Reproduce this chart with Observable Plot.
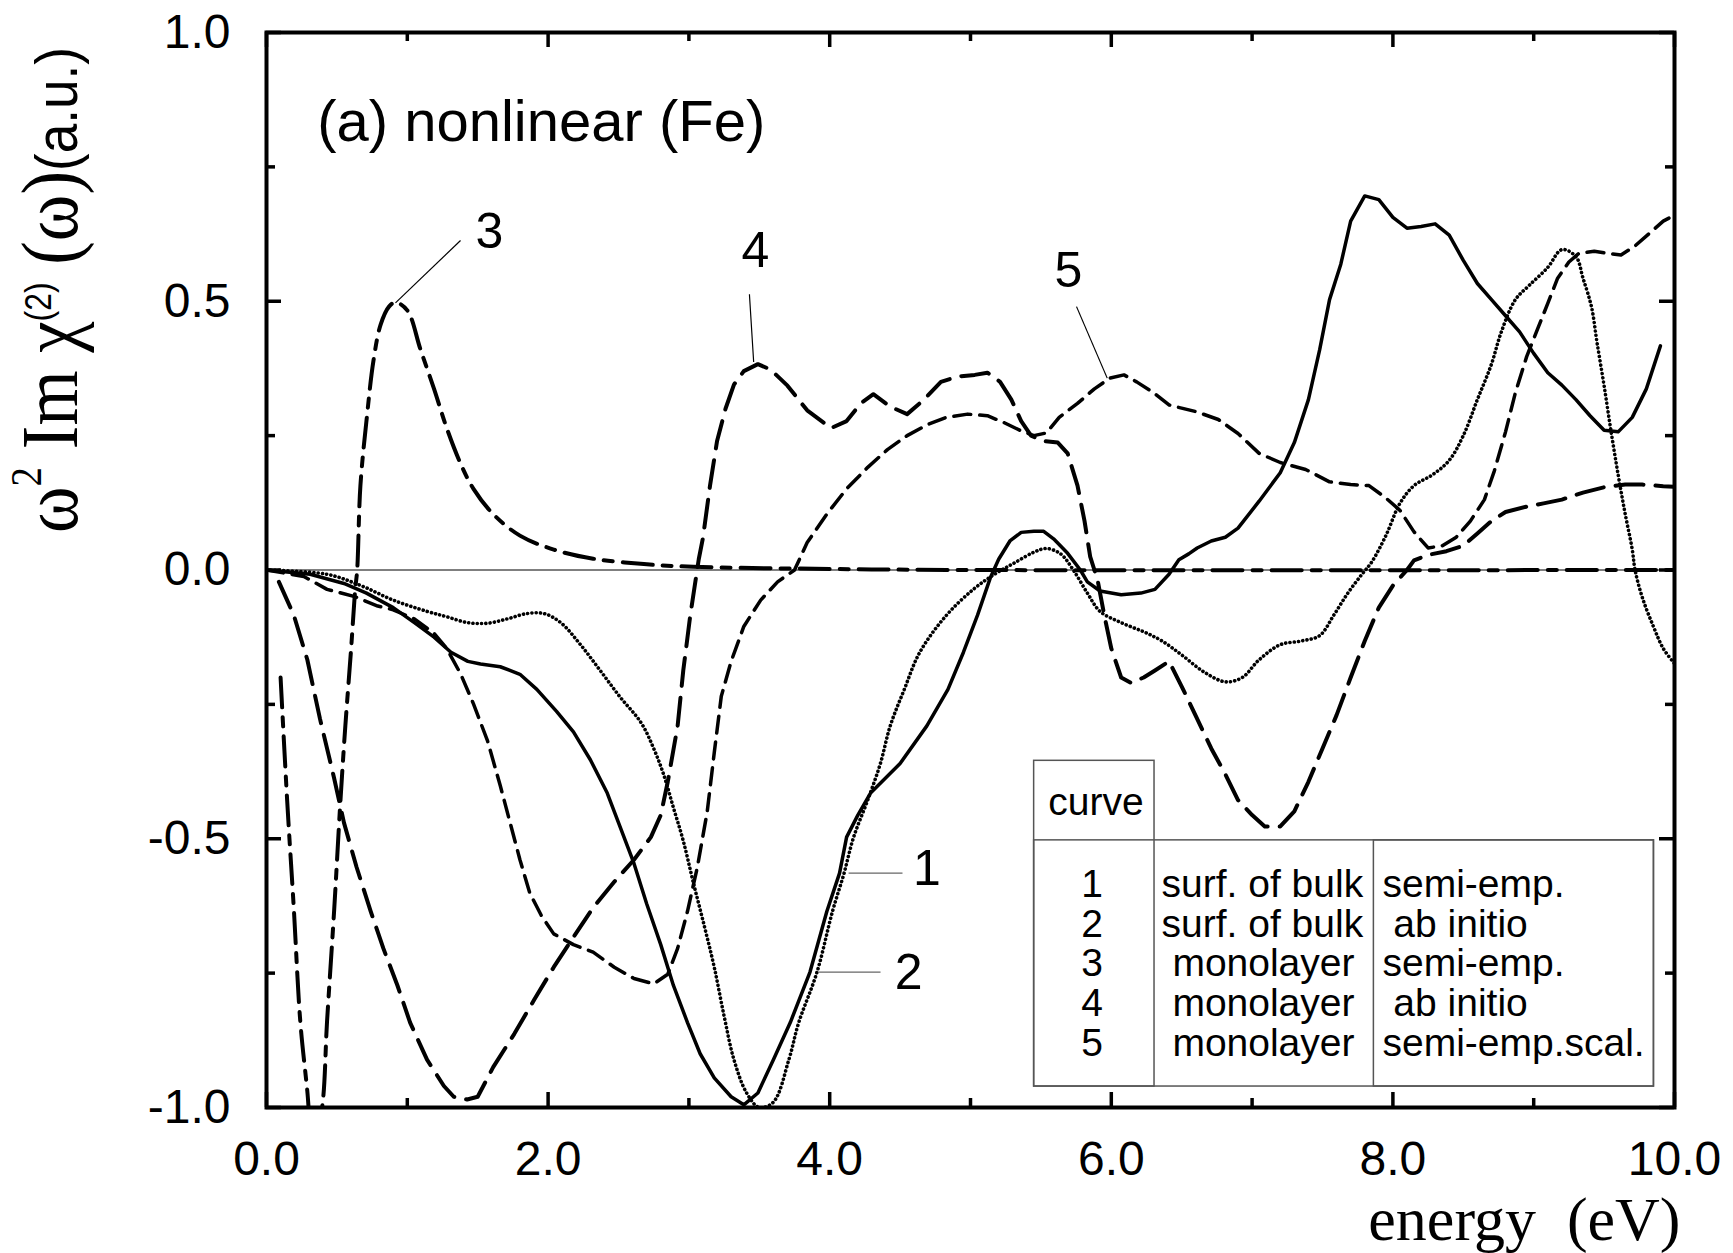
<!DOCTYPE html>
<html><head><meta charset="utf-8">
<script src="https://cdn.jsdelivr.net/npm/d3@7"></script>
<script src="https://cdn.jsdelivr.net/npm/@observablehq/plot@0.6"></script>
<style>body{margin:0;background:#fff} svg{white-space:pre}</style>
</head><body><div id="chart"></div>
<script>
// ---- data: [energy (eV), value] ----
const curve1 = [[0,0],[0.31,-0.008],[0.55,-0.025],[0.71,-0.043],[0.90,-0.07],[1.05,-0.098],[1.19,-0.125],[1.31,-0.153],[1.43,-0.17],[1.52,-0.175],[1.66,-0.18],[1.80,-0.194],[1.92,-0.222],[2.06,-0.263],[2.18,-0.301],[2.30,-0.353],[2.42,-0.415],[2.51,-0.477],[2.61,-0.546],[2.70,-0.621],[2.80,-0.697],[2.89,-0.773],[2.99,-0.842],[3.08,-0.90],[3.18,-0.945],[3.30,-0.98],[3.39,-0.995],[3.49,-0.973],[3.60,-0.911],[3.72,-0.842],[3.86,-0.748],[3.98,-0.635],[4.07,-0.564],[4.12,-0.497],[4.20,-0.456],[4.29,-0.415],[4.50,-0.36],[4.69,-0.29],[4.84,-0.222],[4.95,-0.153],[5.05,-0.084],[5.14,-0.015],[5.20,0.02],[5.28,0.054],[5.36,0.07],[5.45,0.072],[5.52,0.072],[5.59,0.058],[5.69,0.031],[5.78,0],[5.83,-0.022],[5.92,-0.039],[6.07,-0.046],[6.21,-0.043],[6.31,-0.036],[6.41,-0.008],[6.48,0.019],[6.55,0.03],[6.61,0.041],[6.71,0.054],[6.81,0.061],[6.90,0.078],[7.05,0.128],[7.20,0.181],[7.30,0.237],[7.40,0.317],[7.48,0.41],[7.55,0.503],[7.63,0.569],[7.70,0.649],[7.80,0.696],[7.90,0.689],[8.0,0.656],[8.10,0.636],[8.20,0.639],[8.30,0.644],[8.40,0.623],[8.50,0.576],[8.60,0.533],[8.70,0.503],[8.80,0.473],[8.90,0.443],[9.0,0.403],[9.10,0.367],[9.20,0.344],[9.30,0.317],[9.40,0.287],[9.50,0.26],[9.60,0.257],[9.70,0.284],[9.80,0.337],[9.90,0.417]];
const curve2 = [[0,0],[0.43,-0.008],[0.67,-0.029],[0.90,-0.056],[1.14,-0.077],[1.28,-0.087],[1.43,-0.098],[1.57,-0.099],[1.71,-0.091],[1.85,-0.081],[1.97,-0.081],[2.09,-0.098],[2.23,-0.139],[2.37,-0.187],[2.51,-0.236],[2.66,-0.284],[2.75,-0.332],[2.82,-0.38],[2.89,-0.442],[2.96,-0.504],[3.03,-0.58],[3.11,-0.663],[3.18,-0.739],[3.25,-0.83],[3.32,-0.911],[3.41,-0.973],[3.50,-1.0],[3.60,-0.99],[3.71,-0.911],[3.78,-0.842],[3.91,-0.748],[4.02,-0.635],[4.10,-0.566],[4.17,-0.497],[4.27,-0.428],[4.36,-0.36],[4.43,-0.29],[4.53,-0.222],[4.64,-0.153],[4.83,-0.084],[5.02,-0.036],[5.17,-0.008],[5.31,0.013],[5.45,0.033],[5.54,0.04],[5.64,0.03],[5.73,0],[5.83,-0.043],[5.92,-0.077],[6.07,-0.098],[6.23,-0.115],[6.36,-0.132],[6.51,-0.16],[6.66,-0.19],[6.81,-0.208],[6.93,-0.2],[7.05,-0.167],[7.20,-0.139],[7.35,-0.132],[7.48,-0.122],[7.58,-0.084],[7.68,-0.043],[7.78,-0.008],[7.85,0.015],[7.95,0.064],[8.05,0.124],[8.15,0.157],[8.28,0.177],[8.40,0.204],[8.50,0.25],[8.60,0.317],[8.70,0.383],[8.77,0.443],[8.87,0.503],[8.97,0.53],[9.10,0.563],[9.20,0.596],[9.30,0.583],[9.35,0.543],[9.41,0.49],[9.45,0.423],[9.50,0.343],[9.55,0.257],[9.60,0.177],[9.65,0.104],[9.70,0.038],[9.72,0],[9.77,-0.05],[9.85,-0.105],[9.92,-0.146],[10.0,-0.174]];
const curve3 = [[0.10,-0.20],[0.147,-0.43],[0.194,-0.63],[0.24,-0.84],[0.29,-0.97],[0.33,-1.08],[0.395,-1.0],[0.43,-0.84],[0.48,-0.635],[0.525,-0.43],[0.56,-0.29],[0.60,-0.15],[0.63,-0.036],[0.644,0],[0.667,0.157],[0.715,0.29],[0.76,0.39],[0.81,0.456],[0.87,0.49],[0.916,0.498],[1.0,0.483],[1.094,0.41],[1.19,0.337],[1.28,0.264],[1.38,0.197],[1.47,0.151],[1.61,0.104],[1.80,0.064],[2.04,0.038],[2.32,0.021],[2.68,0.011],[3.03,0.006],[4.0,0.002],[5.0,0.0],[10,0]];
const curve4 = [[0.088,-0.022],[0.194,-0.084],[0.29,-0.167],[0.38,-0.277],[0.48,-0.387],[0.55,-0.47],[0.64,-0.553],[0.74,-0.635],[0.83,-0.704],[0.93,-0.773],[1.02,-0.842],[1.14,-0.911],[1.26,-0.96],[1.33,-0.98],[1.425,-0.985],[1.50,-0.98],[1.61,-0.925],[1.76,-0.863],[1.90,-0.80],[2.04,-0.739],[2.18,-0.683],[2.32,-0.628],[2.47,-0.58],[2.61,-0.539],[2.73,-0.497],[2.80,-0.456],[2.85,-0.394],[2.92,-0.29],[2.96,-0.187],[3.01,-0.084],[3.07,0.02],[3.10,0.06],[3.15,0.157],[3.20,0.24],[3.26,0.30],[3.32,0.345],[3.39,0.37],[3.49,0.383],[3.58,0.373],[3.70,0.343],[3.84,0.297],[4.01,0.264],[4.12,0.277],[4.22,0.31],[4.31,0.327],[4.43,0.304],[4.55,0.29],[4.67,0.317],[4.79,0.35],[4.91,0.36],[5.03,0.363],[5.12,0.367],[5.21,0.35],[5.29,0.317],[5.36,0.277],[5.43,0.25],[5.52,0.24],[5.62,0.237],[5.69,0.217],[5.76,0.157],[5.81,0.091],[5.85,0.025],[5.88,0],[5.90,-0.015],[5.95,-0.084],[6.0,-0.146],[6.07,-0.20],[6.14,-0.21],[6.23,-0.20],[6.31,-0.187],[6.41,-0.17],[6.51,-0.222],[6.61,-0.277],[6.71,-0.332],[6.81,-0.38],[6.90,-0.428],[7.0,-0.456],[7.09,-0.477],[7.20,-0.477],[7.30,-0.449],[7.40,-0.394],[7.50,-0.332],[7.60,-0.27],[7.70,-0.20],[7.80,-0.132],[7.90,-0.07],[8.0,-0.029],[8.10,0],[8.15,0.018],[8.25,0.028],[8.38,0.035],[8.50,0.045],[8.60,0.068],[8.70,0.091],[8.80,0.108],[8.95,0.118],[9.07,0.124],[9.20,0.131],[9.35,0.144],[9.50,0.154],[9.65,0.159],[9.77,0.159],[9.92,0.156],[10,0.155]];
const curve5 = [[0,0],[0.265,-0.012],[0.43,-0.036],[0.62,-0.049],[0.79,-0.067],[0.90,-0.074],[1.05,-0.091],[1.19,-0.118],[1.28,-0.146],[1.38,-0.194],[1.47,-0.249],[1.57,-0.318],[1.66,-0.401],[1.73,-0.47],[1.80,-0.539],[1.87,-0.601],[1.95,-0.642],[2.04,-0.677],[2.18,-0.697],[2.32,-0.711],[2.47,-0.739],[2.61,-0.76],[2.75,-0.77],[2.85,-0.752],[2.92,-0.704],[2.99,-0.635],[3.06,-0.553],[3.13,-0.45],[3.18,-0.34],[3.23,-0.235],[3.30,-0.17],[3.39,-0.105],[3.51,-0.056],[3.63,-0.022],[3.75,0],[3.84,0.051],[3.98,0.104],[4.12,0.151],[4.27,0.191],[4.41,0.224],[4.55,0.25],[4.69,0.27],[4.83,0.284],[4.98,0.29],[5.12,0.287],[5.24,0.274],[5.35,0.26],[5.45,0.25],[5.54,0.255],[5.63,0.284],[5.76,0.31],[5.88,0.337],[5.99,0.357],[6.09,0.363],[6.18,0.35],[6.30,0.33],[6.41,0.307],[6.61,0.294],[6.76,0.28],[6.90,0.254],[7.05,0.217],[7.20,0.20],[7.38,0.187],[7.55,0.164],[7.70,0.159],[7.83,0.157],[7.95,0.134],[8.05,0.111],[8.15,0.071],[8.25,0.041],[8.35,0.045],[8.45,0.061],[8.55,0.091],[8.65,0.131],[8.72,0.184],[8.80,0.257],[8.87,0.33],[8.95,0.397],[9.03,0.45],[9.10,0.496],[9.17,0.543],[9.25,0.573],[9.32,0.589],[9.43,0.593],[9.53,0.589],[9.62,0.586],[9.72,0.603],[9.82,0.626],[9.92,0.649],[10,0.66]];

const xMajor = [0, 2, 4, 6, 8, 10];
const xMinor = [1, 3, 5, 7, 9];
const yMajor = [-1, -0.5, 0, 0.5, 1];
const yMinor = [-0.75, -0.25, 0.25, 0.75];
const legendNum = ["1", "2", "3", "4", "5"];
const legendSystem = ["surf. of bulk", "surf. of bulk", " monolayer", " monolayer", " monolayer"];
const legendMethod = ["semi-emp.", " ab initio", "semi-emp.", " ab initio", "semi-emp.scal."];
const curveLabels = ["1", "2", "3", "4", "5"];

// ---- layout ----
const W = 1733, H = 1253, mL = 266, mR = 59, mT = 32, mB = 146;
const fw = W - mL - mR, fh = H - mT - mB;
const sans = "Liberation Sans, Arial, sans-serif";
const serif = "Liberation Serif, Times New Roman, serif";

// annotation placement (data units)
const labelPos = [
  {x: 4.69, y: -0.586, lx1: 4.134, ly1: -0.564, lx2: 4.517, ly2: -0.564, c: "#666"},
  {x: 4.56, y: -0.780, lx1: 3.92, ly1: -0.748, lx2: 4.361, ly2: -0.748, c: "#666"},
  {x: 1.584, y: 0.599, lx1: 1.378, ly1: 0.613, lx2: 0.916, ly2: 0.497, c: "#000"},
  {x: 3.473, y: 0.564, lx1: 3.43, ly1: 0.513, lx2: 3.46, ly2: 0.387, c: "#000"},
  {x: 5.696, y: 0.527, lx1: 5.753, ly1: 0.49, lx2: 5.971, ly2: 0.357, c: "#000"}
].map((d, i) => ({...d, label: curveLabels[i]}));

const tableBoxes = [
  {x1: 5.452, x2: 6.307, y1: -0.355, y2: -0.961},
  {x1: 5.452, x2: 9.854, y1: -0.503, y2: -0.961},
  {x1: 7.865, x2: 9.854, y1: -0.503, y2: -0.961}
];
const rowY = i => -0.608 - i * 0.0741;
const rows = legendNum.map((n, i) => ({n, s: legendSystem[i], m: legendMethod[i], y: rowY(i)}));

const P = d => d[0], V = d => d[1];
const lineStyle = {x: P, y: V, stroke: "black", clip: true};

const plot = Plot.plot({
  width: W, height: H,
  marginLeft: mL, marginRight: mR, marginTop: mT, marginBottom: mB,
  x: {domain: [0, 10], axis: null},
  y: {domain: [-1, 1], axis: null},
  style: {fontFamily: sans, background: "white", color: "black", overflow: "visible"},
  marks: [
    Plot.ruleY([0], {stroke: "black", strokeWidth: 1.2}),
    // curves
    Plot.line(curve4, {...lineStyle, strokeWidth: 4, strokeDasharray: "28,12"}),
    Plot.line(curve5, {...lineStyle, strokeWidth: 3.5, strokeDasharray: "17,9"}),
    Plot.line(curve3, {...lineStyle, strokeWidth: 4, strokeDasharray: "30,10,9,10", curve: "catmull-rom"}),
    Plot.line(curve2, {...lineStyle, strokeWidth: 3.6, strokeDasharray: "0.1,4.2", strokeLinecap: "round", curve: "catmull-rom"}),
    Plot.line(curve1, {...lineStyle, strokeWidth: 3.5}),
    // ticks (inward)
    Plot.ruleX(xMajor, {x: d => d, insetTop: fh - 15, strokeWidth: 3.5}),
    Plot.ruleX(xMajor, {x: d => d, insetBottom: fh - 15, strokeWidth: 3.5}),
    Plot.ruleX(xMinor, {x: d => d, insetTop: fh - 9, strokeWidth: 3.5}),
    Plot.ruleX(xMinor, {x: d => d, insetBottom: fh - 9, strokeWidth: 3.5}),
    Plot.ruleY(yMajor, {y: d => d, insetRight: fw - 15, strokeWidth: 3.5}),
    Plot.ruleY(yMajor, {y: d => d, insetLeft: fw - 15, strokeWidth: 3.5}),
    Plot.ruleY(yMinor, {y: d => d, insetRight: fw - 9, strokeWidth: 3.5}),
    Plot.ruleY(yMinor, {y: d => d, insetLeft: fw - 9, strokeWidth: 3.5}),
    Plot.frame({stroke: "black", strokeWidth: 4}),
    // tick labels
    Plot.text(xMajor, {x: d => d, frameAnchor: "bottom", dy: 33, lineAnchor: "top", text: d => d.toFixed(1), fontSize: 48}),
    Plot.text(yMajor, {y: d => d, frameAnchor: "left", dx: -36, textAnchor: "end", text: d => d.toFixed(1), fontSize: 48}),
    // x title
    Plot.text(["energy  (eV)"], {frameAnchor: "bottom-right", dx: 6, dy: 132, lineAnchor: "bottom", textAnchor: "end", fontFamily: serif, fontSize: 62}),
    // panel title
    Plot.text(["(a) nonlinear (Fe)"], {x: 0.36, y: 0.798, lineAnchor: "bottom", textAnchor: "start", fontSize: 58}),
    // curve labels and leaders
    Plot.link(labelPos, {x1: "lx1", y1: "ly1", x2: "lx2", y2: "ly2", stroke: "c", strokeWidth: 1.2}),
    Plot.text(labelPos, {x: "x", y: "y", text: "label", lineAnchor: "bottom", fontSize: 50}),
    // legend table
    Plot.rect(tableBoxes, {x1: "x1", x2: "x2", y1: "y1", y2: "y2", fill: "none", stroke: "#555", strokeWidth: 1.5}),
    Plot.text(["curve"], {x: 5.891, y: -0.456, lineAnchor: "bottom", fontSize: 39}),
    Plot.text(rows, {x: 5.864, y: "y", text: "n", lineAnchor: "bottom", fontSize: 39}),
    Plot.text(rows, {x: 6.357, y: "y", text: "s", lineAnchor: "bottom", textAnchor: "start", fontSize: 39}),
    Plot.text(rows, {x: 7.926, y: "y", text: "m", lineAnchor: "bottom", textAnchor: "start", fontSize: 39})
  ]
});

// y-axis title
const t = d3.select(plot).append("text")
  .attr("transform", "translate(77,290) rotate(-90)")
  .attr("text-anchor", "middle")
  .attr("textLength", 486)
  .attr("lengthAdjust", "spacingAndGlyphs")
  .attr("fill", "black")
  .style("font-family", serif)
  .style("font-size", "80px");
t.append("tspan").text("\u03C9");
t.append("tspan").attr("dy", -36).style("font-size", "44px").text("2");
t.append("tspan").attr("dy", 36).text(" Im ");
t.append("tspan").text("\u03C7");
t.append("tspan").attr("dy", -26).style("font-family", sans).style("font-size", "36px").text("(2)");
t.append("tspan").attr("dy", 26).text(" (\u03C9)");
t.append("tspan").style("font-family", sans).style("font-size", "60px").text("(a.u.)");

document.getElementById("chart").appendChild(plot);
</script>
</body></html>
